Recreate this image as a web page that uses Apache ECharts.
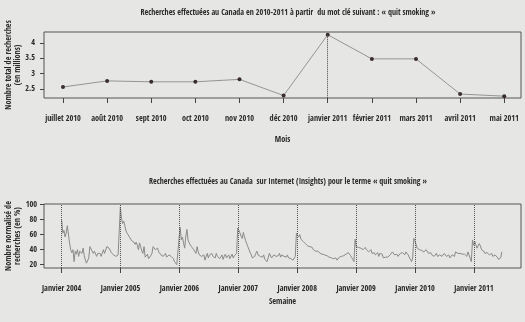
<!DOCTYPE html>
<html><head><meta charset="utf-8">
<script src="https://cdn.jsdelivr.net/npm/echarts@6/dist/echarts.min.js"></script>
<style>html,body{margin:0;padding:0;background:#e6e6e4;}#c{width:525px;height:322px;}</style>
</head><body><div id="c"></div>
<script>
// ---- Top chart data ----
const months = ['juillet 2010','août 2010','sept 2010','oct 2010','nov 2010','déc 2010','janvier 2011','février 2011','mars 2011','avril 2011','mai 2011'];
const searchesMillions = [2.56,2.76,2.73,2.73,2.81,2.28,4.27,3.48,3.48,2.33,2.26];
const topYTicks = [2.5,3,3.5,4];
const highlightMonth = 'janvier 2011';

// ---- Bottom chart data (weekly, normalised %) ----
const yearTicks = [2004,2005,2006,2007,2008,2009,2010,2011];
const bottomYTicks = [20,40,60,80,100];
const w2004 = [80,62,66,57,62,72,71,49,40,36,40,24,38,34,40,31,38,40,35,42,32,26,22,23,29,44,42,38,35,38,40,31,35,37,35,31,30,40,35,33,44,46,42,40,36,35,33,32,31,30,33,32];
const w2005 = [97,82,75,78,72,65,62,60,57,55,52,54,50,47,50,46,40,49,44,38,35,44,30,29,34,28,26,32,35,44,42,40,38,42,37,35,33,35,31,33,35,30,29,33,35,31,30,28,24,22,20,18];
const w2006 = [55,70,53,57,49,42,58,67,53,49,51,44,46,40,42,35,44,37,33,35,31,29,33,26,31,35,29,33,31,35,31,33,29,35,31,33,28,30,33,27,31,34,29,31,33,28,30,34,29,32,30,35];
const w2007 = [69,66,62,58,55,63,57,52,48,44,40,36,33,29,30,31,35,38,33,35,31,33,30,33,27,25,24,29,35,33,29,31,33,35,31,33,32,35,30,33,34,31,33,30,33,29,31,28,30,26,28,31];
const w2008 = [62,64,57,60,54,52,51,49,48,46,45,47,44,42,43,40,41,38,37,38,36,35,37,34,35,33,31,32,33,30,31,29,30,28,27,29,26,28,30,29,31,29,32,31,34,33,36,34,32,30,27,24];
const w2009 = [54,44,46,43,45,42,44,40,42,43,40,41,37,39,40,35,37,36,33,35,36,31,35,33,34,29,31,30,32,30,31,33,35,37,35,33,35,34,31,33,35,37,36,35,33,37,35,33,31,27,24,29];
const w2010 = [55,52,47,42,41,40,38,39,40,37,38,40,39,35,37,36,33,34,31,33,35,31,29,33,32,31,33,35,33,31,32,33,29,31,33,32,31,37,36,35,36,35,33,34,35,34,33,31,37,33,28,24];
const w2011 = [53,46,51,49,42,44,48,45,40,42,38,35,37,36,35,33,34,35,31,29,33,31,30,27,26,29,37];

const weekly = [].concat(w2004,w2005,w2006,w2007,w2008,w2009,w2010,w2011);
const weeklyPts = weekly.map((v,i)=>[2004 + i*7/365.25, v]);
const topPts = searchesMillions.map((v,i)=>[i,v]);
const hiIdx = months.indexOf(highlightMonth);

const FONT = "'Open Sans Condensed','Roboto Condensed',sans-serif";
const TXT = '#2a2a2a';
const lbl = {fontFamily:FONT,fontSize:8.2,fontWeight:'bold',color:TXT};
const ttl = {fontFamily:FONT,fontSize:8,fontWeight:'bold',color:TXT};

const chart = echarts.init(document.getElementById('c'),null,{renderer:'canvas'});
chart.setOption({
  backgroundColor:'#e6e6e4',
  animation:false,
  title:[
    {text:'Recherches effectuées au Canada en 2010-2011 à partir  du mot clé suivant : « quit smoking »',
     left:283, top:4, textAlign:'center', textStyle:ttl},
    {text:'Recherches effectuées au Canada  sur Internet (Insights) pour le terme « quit smoking »',
     left:283, top:173, textAlign:'center', textStyle:ttl}
  ],
  grid:[
    {left:44,right:4,top:32,height:66,show:true,borderColor:'#555',borderWidth:1,backgroundColor:'transparent',outerBoundsMode:'none',containLabel:false},
    {left:44,right:4,top:204,height:64,show:true,borderColor:'#555',borderWidth:1,backgroundColor:'transparent',outerBoundsMode:'none',containLabel:false}
  ],
  xAxis:[
    {type:'value',gridIndex:0,min:-0.43,max:10.38,
     name:'Mois',nameLocation:'middle',nameGap:38,nameMoveOverlap:false,nameTextStyle:lbl,
     axisLine:{show:false,onZero:false},splitLine:{show:false},
     axisTick:{show:true,length:5,customValues:months.map((m,i)=>i),lineStyle:{color:'#444'}},
     axisLabel:Object.assign({margin:17,showMinLabel:true,showMaxLabel:true,hideOverlap:false,customValues:months.map((m,i)=>i),formatter:v=>months[Math.round(v)]},lbl)},
    {type:'value',gridIndex:1,min:2003.70,max:2011.80,
     name:'Semaine',nameLocation:'middle',nameGap:30,nameMoveOverlap:false,nameTextStyle:lbl,
     axisLine:{show:false,onZero:false},splitLine:{show:false},
     axisTick:{show:true,length:5,customValues:yearTicks,lineStyle:{color:'#444'}},
     axisLabel:Object.assign({margin:17,showMinLabel:true,showMaxLabel:true,hideOverlap:false,customValues:yearTicks,formatter:v=>'Janvier '+Math.round(v)},lbl)}
  ],
  yAxis:[
    {type:'value',gridIndex:0,min:2.2,max:4.36,
     name:'Nombre total de recherches\n(en millions)',nameLocation:'middle',nameGap:22,nameRotate:90,nameMoveOverlap:false,
     nameTextStyle:Object.assign({lineHeight:9},lbl),
     axisLine:{show:false,onZero:false},splitLine:{show:false},
     axisTick:{show:true,length:4,customValues:topYTicks,lineStyle:{color:'#444'}},
     axisLabel:Object.assign({margin:9,showMinLabel:true,showMaxLabel:true,customValues:topYTicks,formatter:v=>String(v)},lbl)},
    {type:'value',gridIndex:1,min:15.5,max:101,
     name:'Nombre normalisé de\nrecherches (en %)',nameLocation:'middle',nameGap:22,nameRotate:90,nameMoveOverlap:false,
     nameTextStyle:Object.assign({lineHeight:9},lbl),
     axisLine:{show:false,onZero:false},splitLine:{show:false},
     axisTick:{show:true,length:4,customValues:bottomYTicks,lineStyle:{color:'#444'}},
     axisLabel:Object.assign({margin:7,showMinLabel:true,showMaxLabel:true,customValues:bottomYTicks,formatter:v=>String(v)},lbl)}
  ],
  series:[
    {type:'line',xAxisIndex:0,yAxisIndex:0,data:topPts,
     symbol:'circle',symbolSize:4,
     lineStyle:{color:'#949494',width:1},itemStyle:{color:'#3a2c2c'},
     markLine:{silent:true,symbol:'none',label:{show:false},
       lineStyle:{color:'#444',type:'dotted',width:1},
       data:[[{coord:[hiIdx,searchesMillions[hiIdx]]},{coord:[hiIdx,2.2]}]]}},
    {type:'line',xAxisIndex:1,yAxisIndex:1,data:weeklyPts,
     symbol:'none',lineStyle:{color:'#8a8a8a',width:1},
     markLine:{silent:true,symbol:'none',label:{show:false},
       lineStyle:{color:'#555',type:'dotted',width:1},
       data:yearTicks.map(y=>({xAxis:y}))}}
  ]
});
</script></body></html>
